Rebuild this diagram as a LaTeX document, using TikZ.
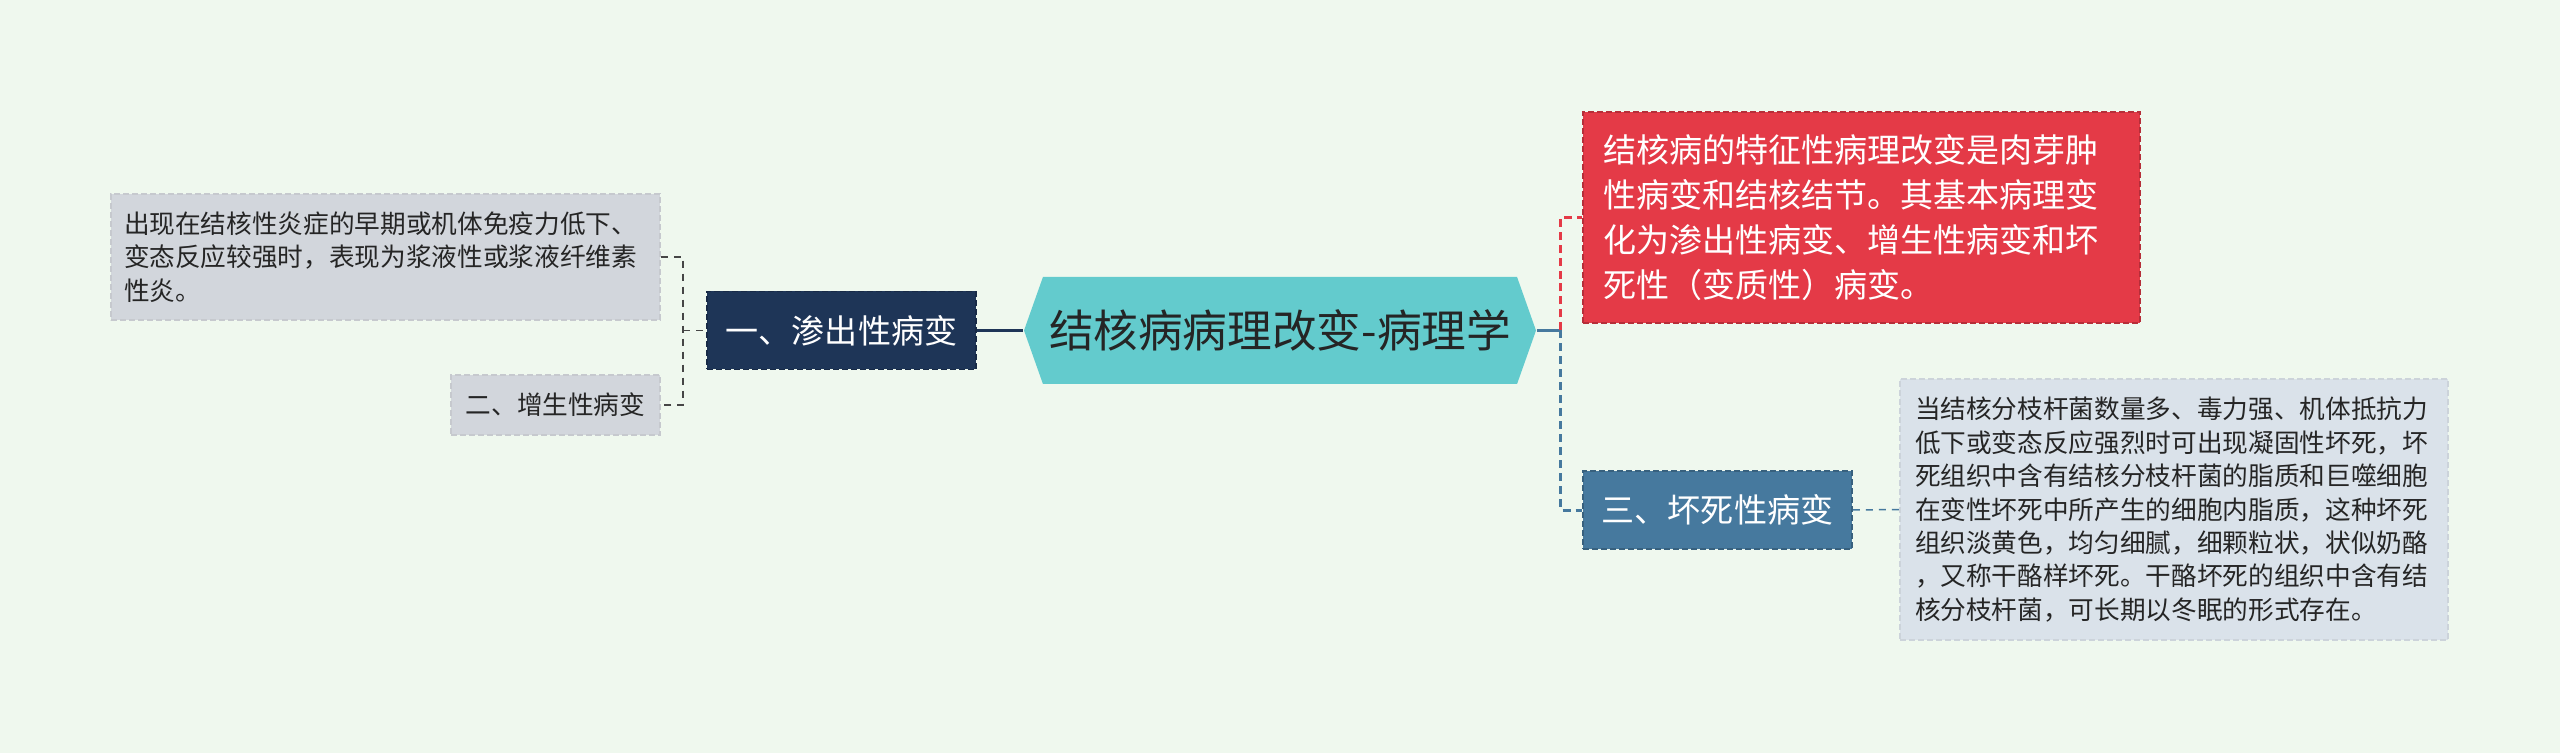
\documentclass[tikz,border=0pt]{standalone}
\usepackage{fontspec}
\setmainfont{Noto Sans CJK SC}
\usepackage{tikz}
\usetikzlibrary{positioning,shapes.symbols}
\definecolor{tbbg}{HTML}{EFF8EE}
\definecolor{tbroot}{HTML}{63CBCD}
\definecolor{tbnavy}{HTML}{1E3557}
\definecolor{tbsteel}{HTML}{46799E}
\definecolor{tbred}{HTML}{E43A47}
\definecolor{tbleaf}{HTML}{D2D6DC}
\definecolor{tbleafb}{HTML}{DAE2EA}
\definecolor{tbink}{HTML}{252525}

\begin{document}
\begin{tikzpicture}[x=0.1mm, y=-0.1mm,
  leafnode/.style={rectangle, fill=tbleaf, draw=tbleaf!85!gray, line width=0.15mm,
               dash pattern=on 0.6mm off 0.3mm, inner sep=0pt, align=left,
               text=tbink, font=\fontsize{7.3pt}{9.6pt}\selectfont},
  topicnode/.style={rectangle, draw=#1!80!black, fill=#1, line width=0.15mm,
               dash pattern=on 0.6mm off 0.3mm, inner sep=0pt, align=center,
               minimum width=26.9mm, minimum height=7.8mm, text=white,
               font=\fontsize{9.4pt}{12pt}\selectfont},
  rootnode/.style={signal, signal to=west and east, signal pointer angle=141,
               fill=tbroot, inner sep=0pt, minimum width=51.2mm, minimum height=10.7mm,
               text=tbink, font=\fontsize{12.7pt}{15pt}\selectfont},
  link/.style={draw=#1, line width=0.3mm},
  dlink/.style={draw=#1, line width=0.3mm, dash pattern=on 0.8mm off 0.5mm},
  thinlink/.style={draw=#1, line width=0.15mm, dash pattern=on 0.7mm off 0.6mm}
]
  \fill[tbbg] (0,0) rectangle (2560,753);
  \useasboundingbox (0,0) rectangle (2560,753);
  \node[rootnode] (root) at (1280,330.5) {结核病病理改变-病理学};
  \node[topicnode=tbnavy] (exud) at (841.5,330.5) {一、渗出性病变};
  \node[topicnode=tbsteel] (necr) at (1717.5,510) {三、坏死性病变};
  \node[topicnode=tbred, align=left, minimum width=55.7mm, minimum height=21.1mm,
        text width=51.7mm, font=\fontsize{9.4pt}{12.8pt}\selectfont] (feat) at (1861.5,217.5)
    {结核病的特征性病理改变是肉芽肿\\性病变和结核结节。其基本病理变\\化为渗出性病变、增生性病变和坏\\死性（变质性）病变。};
  \node[leafnode, minimum width=54.9mm, minimum height=12.6mm, text width=52.3mm] (exudtxt) at (385.5,257)
    {出现在结核性炎症的早期或机体免疫力低下、\\变态反应较强时，表现为浆液性或浆液纤维素\\性炎。};
  \node[leafnode, align=center, minimum width=20.9mm, minimum height=6mm] (prol) at (555.5,405) {二、增生性病变};
  \node[leafnode, fill=tbleafb, draw=tbleafb!85!gray, minimum width=54.8mm, minimum height=26.1mm,
        text width=51.8mm, font=\fontsize{7.3pt}{9.5pt}\selectfont] (necrtxt) at (2174,509.5)
    {当结核分枝杆菌数量多、毒力强、机体抵抗力\\低下或变态反应强烈时可出现凝固性坏死，坏\\死组织中含有结核分枝杆菌的脂质和巨噬细胞\\在变性坏死中所产生的细胞内脂质，这种坏死\\组织淡黄色，均匀细腻，细颗粒状，状似奶酪\\，又称干酪样坏死。干酪坏死的组织中含有结\\核分枝杆菌，可长期以冬眠的形式存在。};
  \coordinate (lj) at (683,330.5);
  \coordinate (rj) at (1560,330.5);
  \draw[thinlink=tbink!85] (exudtxt.east) -| (lj) |- (prol.east);
  \draw[thinlink=tbink!85] (lj) -- (exud.west);
  \draw[link=tbnavy] (exud.east) -- (root.west);
  \draw[link=tbsteel] (root.east) -- (rj);
  \draw[dlink=tbred] (rj) |- (feat.west);
  \draw[dlink=tbsteel] (rj) |- (necr.west);
  \draw[thinlink=tbsteel] (necr.east) -- (necrtxt.west);
\end{tikzpicture}
\end{document}
